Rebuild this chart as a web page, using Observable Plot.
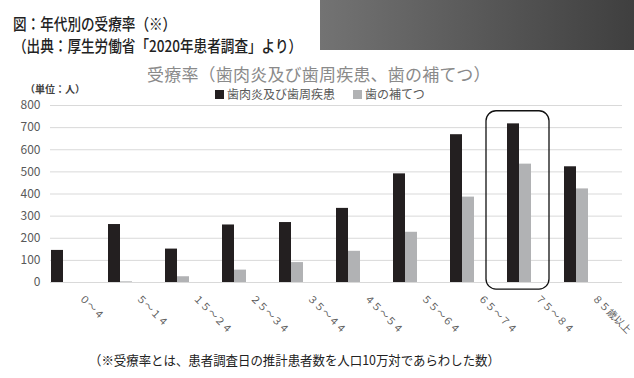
<!DOCTYPE html>
<html><head><meta charset="utf-8">
<script src="https://cdn.jsdelivr.net/npm/d3@7"></script>
<script src="https://cdn.jsdelivr.net/npm/@observablehq/plot@0.6"></script>
<style>
html,body{margin:0;padding:0;background:#fff;}
body{width:634px;height:378px;position:relative;overflow:hidden;font-family:"Noto Sans CJK JP","Noto Sans",sans-serif;}
#chart{position:absolute;left:0;top:0;}
.abs{position:absolute;white-space:nowrap;}
#hdr1,#hdr2{left:13px;font-size:16px;color:#222;transform-origin:left center;transform:scaleX(0.85);font-weight:500;}
#hdr1{top:11px;}
#hdr2{top:33px;}
#box{left:320px;top:0;width:314px;height:50px;background:linear-gradient(90deg,#737373,#3f3f3f);}
#title{left:147px;top:61px;font-size:17px;color:#8a8a8a;letter-spacing:0.2px;}
#unit{left:25px;top:81px;font-size:10px;font-weight:bold;color:#404040;}
#legend{left:215px;top:85px;font-size:12px;color:#595959;}
.sw{display:inline-block;width:9px;height:9px;margin-right:3px;}
#foot{left:89px;top:350px;font-size:13px;color:#222;transform-origin:left center;transform:scaleX(0.955);}
</style></head>
<body>
<div id="chart"></div>
<div id="box" class="abs"></div>
<div id="hdr1" class="abs">図：年代別の受療率（※）</div>
<div id="hdr2" class="abs">（出典：厚生労働省「2020年患者調査」より）</div>
<div id="title" class="abs">受療率（歯肉炎及び歯周疾患、歯の補てつ）</div>
<div id="unit" class="abs">（単位：人）</div>
<div id="legend" class="abs"></div>
<div id="foot" class="abs">（※受療率とは、患者調査日の推計患者数を人口10万対であらわした数）</div>
<script>
const ages = ["０～４","５～１４","１５～２４","２５～３４","３５～４４","４５～５４","５５～６４","６５～７４","７５～８４","８５歳以上"];
const gumDisease = [145, 262, 151, 260, 271, 335, 491, 668, 717, 523];
const prosthesis = [0, 3, 26, 56, 90, 141, 227, 386, 535, 423];
const seriesNames = ["歯肉炎及び歯周疾患", "歯の補てつ"];
const seriesColors = ["#231f20", "#b1b2b4"];
const yTicks = [0, 100, 200, 300, 400, 500, 600, 700, 800];
const highlight = [{age: "７５～８４", low: -32, high: 774}];

const gumData = ages.map((a, i) => ({age: a, value: gumDisease[i]}));
const prosData = ages.map((a, i) => ({age: a, value: prosthesis[i]}));

const plot = Plot.plot({
  width: 634,
  height: 378,
  marginTop: 105,
  marginBottom: 96,
  marginLeft: 50,
  marginRight: 12,
  style: {fontFamily: '"Noto Sans CJK JP","Noto Sans",sans-serif', background: "transparent"},
  x: {type: "band", domain: ages, padding: 0, axis: null},
  y: {domain: [0, 800], axis: null},
  marks: [
    Plot.gridY(yTicks, {stroke: "#d9d9d9", strokeOpacity: 1, strokeWidth: 1}),
    Plot.axisY(yTicks, {tickSize: 0, tickPadding: 10, fontSize: 12, fill: "#595959", label: null, tickFormat: d => String(d)}),
    Plot.barY(gumData, {x: "age", y: "value", fill: seriesColors[0], insetLeft: 0, insetRight: 45}),
    Plot.barY(prosData, {x: "age", y: "value", fill: seriesColors[1], insetLeft: 12, insetRight: 33}),
    Plot.text(ages, {x: d => d, y: 0, dy: 14, dx: 1, rotate: 45, textAnchor: "start", lineAnchor: "middle", fontSize: 10, fill: "#595959"}),
    Plot.barY(highlight, {x: "age", y1: "low", y2: "high", fill: "none", stroke: "#111", strokeWidth: 1.3, rx: 10, insetLeft: -21, insetRight: 15})
  ]
});
document.getElementById("chart").appendChild(plot);

const lg = document.getElementById("legend");
seriesNames.forEach((n, i) => {
  const s = document.createElement("span");
  s.style.marginRight = i === 0 ? "18px" : "0";
  s.innerHTML = `<span class="sw" style="background:${seriesColors[i]}"></span>${n}`;
  lg.appendChild(s);
});
</script>
</body></html>
